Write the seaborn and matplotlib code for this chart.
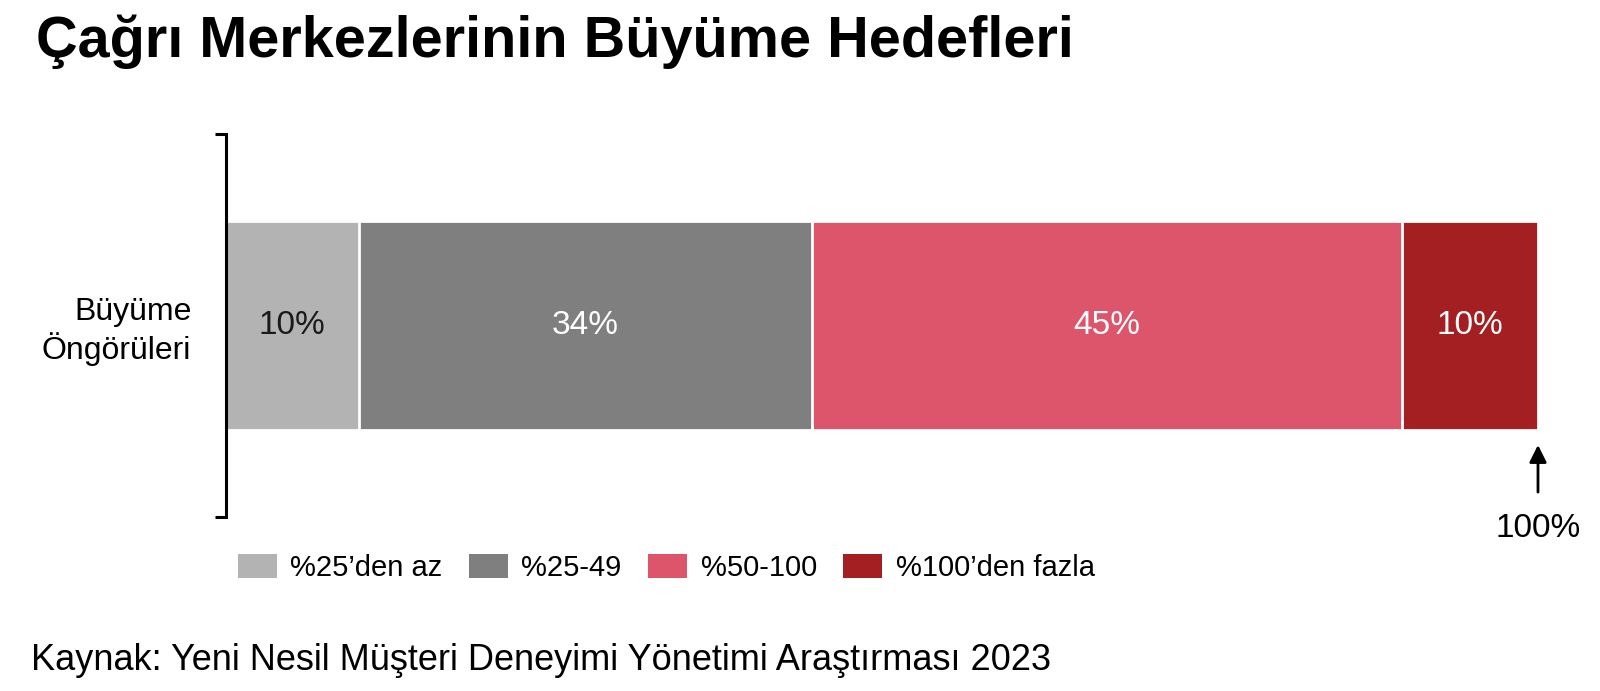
import numpy as np
import pandas as pd
import matplotlib
matplotlib.use('Agg')
import matplotlib.pyplot as plt
from matplotlib.patches import Patch
import seaborn as sns

# data
group = "Büyüme\nÖngörüleri"
segments = ["%25’den az", "%25-49", "%50-100", "%100’den fazla"]
shares = [10.1, 34.6, 44.9, 10.4]   # widths as drawn (sum 100)
labels = ["10%", "34%", "45%", "10%"]
colors = ["#b3b3b3", "#7f7f7f", "#dc556b", "#a41f22"]
text_colors = ["#1a1a1a", "white", "white", "white"]

title = "Çağrı Merkezlerinin Büyüme Hedefleri"
source = "Kaynak: Yeni Nesil Müşteri Deneyimi Yönetimi Araştırması 2023"

sns.set_style("white")
plt.rcParams['font.family'] = ['Liberation Sans', 'DejaVu Sans']
plt.rcParams['text.color'] = 'black'
plt.rcParams['ytick.color'] = 'black'
plt.rcParams['ytick.labelcolor'] = 'black'

df = pd.DataFrame({"group": group, "segment": segments, "share": shares})
df["cum"] = df["share"].cumsum()
df["mid"] = df["cum"] - df["share"] / 2

fig = plt.figure(figsize=(16, 6.91), dpi=100)
ax = fig.add_axes([0.14125, 0.2518, 0.82, 0.5543])

# stacked bar: cumulative bars drawn longest first so shorter ones sit on top
sns.barplot(data=df, x="cum", y="group", hue="segment",
            hue_order=segments[::-1], palette=dict(zip(segments, colors)),
            saturation=1, dodge=False, width=0.545, edgecolor="white",
            linewidth=2, legend=False, ax=ax)

for _, row in df.iterrows():
    i = segments.index(row["segment"])
    ax.text(row["mid"], 0, labels[i], ha="center", va="center",
            fontsize=24, color=text_colors[i])

ax.set_xlim(0, 100)
ax.set_ylim(0.5, -0.5)
ax.set_xlabel("")
ax.set_ylabel("")
ax.set_xticks([])
for s in ["top", "right", "bottom"]:
    ax.spines[s].set_visible(False)
ax.spines["left"].set_linewidth(2.2)
ax.spines["left"].set_color("black")
ax.tick_params(axis="y", which="major", left=False, length=0, pad=25,
               labelsize=23)
ax.set_yticks([-0.5, 0.5], minor=True)
ax.tick_params(axis="y", which="minor", left=True, length=8, width=2.2,
               color="black")

# 100% marker under the bar end
ax.annotate("", xy=(100, 0.188), xytext=(100, 0.065),
            xycoords=("data", "axes fraction"),
            textcoords=("data", "axes fraction"), annotation_clip=False,
            arrowprops=dict(arrowstyle="-|>", color="black", lw=2,
                            mutation_scale=26, shrinkA=0, shrinkB=0))
ax.text(100, -0.03, "100%", transform=ax.get_xaxis_transform(),
        ha="center", va="center", fontsize=24)

handles = [Patch(facecolor=c, edgecolor="none") for c in colors]
fig.legend(handles, segments, loc="center left",
           bbox_to_anchor=(238 / 1600, 1 - 568 / 691), ncol=4, frameon=False,
           fontsize=21, handlelength=1.35, handleheight=0.9,
           handletextpad=0.45, columnspacing=0.9, borderpad=0, borderaxespad=0)

fig.text(36 / 1600, 1 - 57 / 691, title, fontsize=41.5, fontweight="bold",
         va="baseline", ha="left")
fig.text(31 / 1600, 1 - 670 / 691, source, fontsize=26,
         va="baseline", ha="left")

fig.savefig("out.png", dpi=100)
plt.close(fig)
